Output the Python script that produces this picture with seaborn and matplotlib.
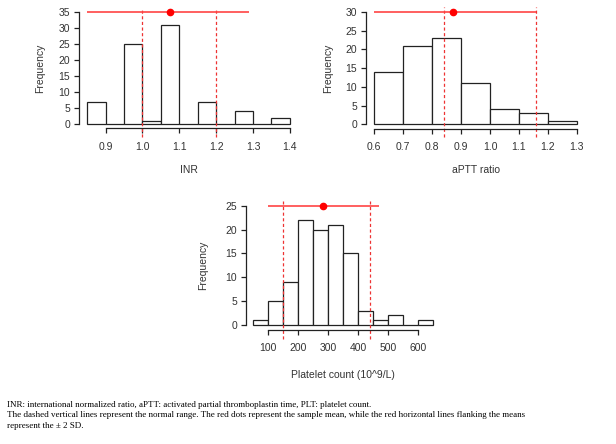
import numpy as np
import matplotlib
matplotlib.use("Agg")
import matplotlib.pyplot as plt
import seaborn as sns

# INR histogram (bin edges + counts)
inr_edges = [0.85, 0.90, 0.95, 1.00, 1.05, 1.10, 1.15, 1.20, 1.25, 1.30, 1.35, 1.40]
inr_counts = [7, 0, 25, 1, 31, 0, 7, 0, 4, 0, 2]
inr_ticks = [0.9, 1.0, 1.1, 1.2, 1.3, 1.4]
inr_yticks = [0, 5, 10, 15, 20, 25, 30, 35]
inr_normal = [1.0, 1.2]
inr_mean = 1.074
inr_sd_range = [0.85, 1.29]

# aPTT ratio histogram
aptt_edges = [0.6, 0.7, 0.8, 0.9, 1.0, 1.1, 1.2, 1.3]
aptt_counts = [14, 21, 23, 11, 4, 3, 1]
aptt_ticks = [0.6, 0.7, 0.8, 0.9, 1.0, 1.1, 1.2, 1.3]
aptt_yticks = [0, 5, 10, 15, 20, 25, 30]
aptt_normal = [0.84, 1.16]
aptt_mean = 0.874
aptt_sd_range = [0.60, 1.16]

# Platelet count histogram
plt_edges = [50, 100, 150, 200, 250, 300, 350, 400, 450, 500, 550, 600, 650]
plt_counts = [1, 5, 9, 22, 20, 21, 15, 3, 1, 2, 0, 1]
plt_ticks = [100, 200, 300, 400, 500, 600]
plt_yticks = [0, 5, 10, 15, 20, 25]
plt_normal = [150, 440]
plt_mean = 284
plt_sd_range = [100, 468]

caption = ("INR: international normalized ratio, aPTT: activated partial thromboplastin time, PLT: platelet count.\n"
           "The dashed vertical lines represent the normal range. The red dots represent the sample mean, "
           "while the red horizontal lines flanking the means\n"
           "represent the \u00b1 2 SD.")

sns.set_theme(style="white")
plt.rcParams["font.family"] = ["Liberation Sans", "DejaVu Sans"]

W, H = 616, 444
fig = plt.figure(figsize=(W / 100, H / 100), dpi=100)


def r_hist(box, edges, counts, xticks, yticks, normal, mean, sd_range, xlabel, xlab_px, ylab_px):
    # box given in pixels: left, top, right, bottom
    l, t, r, b = box
    ax = fig.add_axes([l / W, 1 - b / H, (r - l) / W, (b - t) / H])
    mids = [(a + c) / 2 for a, c in zip(edges[:-1], edges[1:])]
    sns.histplot(x=mids, weights=counts, bins=edges, ax=ax,
                 color="white", edgecolor="#222222", linewidth=0.9, alpha=1)
    pad_x = 0.04 * (edges[-1] - edges[0])
    pad_y = 0.04 * yticks[-1]
    ax.set_xlim(edges[0] - pad_x, edges[-1] + pad_x)
    ax.set_ylim(-pad_y, yticks[-1] + pad_y)
    ax.set_xticks(xticks)
    ax.set_yticks(yticks)
    ax.set_xticklabels([f"{t:g}" if isinstance(t, int) else f"{t:.1f}" for t in xticks])
    for s in ["top", "right"]:
        ax.spines[s].set_visible(False)
    ax.spines["left"].set_bounds(yticks[0], yticks[-1])
    ax.spines["bottom"].set_bounds(xticks[0], xticks[-1])
    for s in ["left", "bottom"]:
        ax.spines[s].set_color("#222222")
        ax.spines[s].set_linewidth(0.9)
    ax.tick_params(axis="both", length=3.3, width=0.9, color="#222222",
                   labelsize=7.5, labelcolor="#333333", left=True, bottom=True)
    ax.tick_params(axis="x", pad=6.5)
    ax.tick_params(axis="y", pad=3)
    # normal range
    for v in normal:
        ax.axvline(v, ymin=-0.07, ymax=1, color="#ee3333", linestyle=(0, (2.5, 2)),
                   linewidth=0.9, clip_on=False)
    # mean +/- 2 SD
    ax.hlines(yticks[-1], sd_range[0], sd_range[1], color="#ff4444", linewidth=1.2)
    ax.plot([mean], [yticks[-1]], "o", color="red", markersize=4.5, clip_on=False)
    ax.set_xlabel(xlabel, fontsize=7.5, color="#333333", va="center")
    ax.xaxis.set_label_coords(0.5, -xlab_px / (b - t))
    ax.set_ylabel("Frequency", fontsize=7.5, color="#333333", va="center")
    ax.yaxis.set_label_coords(-ylab_px / (r - l), 0.5)
    return ax


r_hist((79, 8, 298, 128.5), inr_edges, inr_counts, inr_ticks, inr_yticks,
       inr_normal, inr_mean, inr_sd_range, "INR", 41.5, 39)
r_hist((366, 7.3, 585, 128.8), aptt_edges, aptt_counts, aptt_ticks, aptt_yticks,
       aptt_normal, aptt_mean, aptt_sd_range, "aPTT ratio", 41.5, 38)
r_hist((246, 201, 440.6, 329.8), plt_edges, plt_counts, plt_ticks, plt_yticks,
       plt_normal, plt_mean, plt_sd_range, "Platelet count (10^9/L)", 45, 43)

fig.text(0.011, 1 - 401 / H, caption, family=["Liberation Serif", "DejaVu Serif"],
         fontsize=6.5, va="top", ha="left", linespacing=1.38, color="black")

fig.savefig("out.png", dpi=100, facecolor="white")
